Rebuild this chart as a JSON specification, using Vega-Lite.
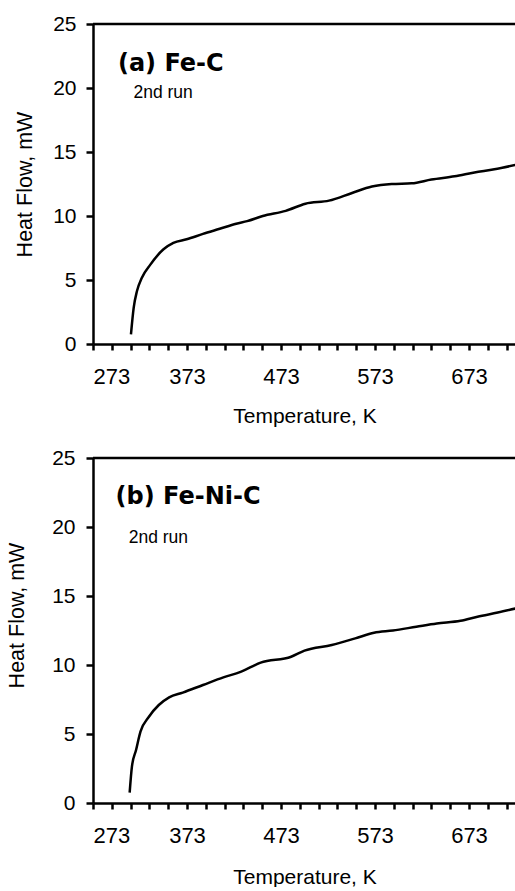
{
  "$schema": "https://vega.github.io/schema/vega-lite/v6.json",
  "background": "white",
  "padding": {"left": 6, "top": 13, "right": 0, "bottom": 0},
  "spacing": 21,
  "config": {
    "view": {"stroke": null},
    "axis": {
      "domainColor": "black", "domainWidth": 2.5, "tickColor": "black", "tickWidth": 2.5,
      "labelColor": "black", "labelFont": "Liberation Sans", "titleFont": "Liberation Sans",
      "titleColor": "black", "titleFontWeight": "normal", "grid": false
    }
  },
  "datasets": {
    "a": [
      {"T": 313.4, "V": 0.76}, {"T": 316.3, "V": 2.84}, {"T": 319.8, "V": 4.14}, {"T": 325, "V": 5.18},
      {"T": 334, "V": 6.2}, {"T": 348, "V": 7.4}, {"T": 358.5, "V": 7.9}, {"T": 372.6, "V": 8.18},
      {"T": 390, "V": 8.6}, {"T": 407.8, "V": 9.0}, {"T": 425.4, "V": 9.4}, {"T": 437, "V": 9.6},
      {"T": 453.6, "V": 10.0}, {"T": 478, "V": 10.4}, {"T": 499, "V": 10.96}, {"T": 524, "V": 11.2},
      {"T": 548.6, "V": 11.8}, {"T": 569.7, "V": 12.3}, {"T": 590.8, "V": 12.5}, {"T": 612, "V": 12.55},
      {"T": 633, "V": 12.85}, {"T": 657.7, "V": 13.1}, {"T": 678.8, "V": 13.4}, {"T": 700, "V": 13.65},
      {"T": 723, "V": 14.0}
    ],
    "b": [
      {"T": 312, "V": 0.75}, {"T": 314.4, "V": 2.63}, {"T": 318.8, "V": 3.84}, {"T": 323.5, "V": 5.17},
      {"T": 332.5, "V": 6.25}, {"T": 343, "V": 7.1}, {"T": 354, "V": 7.66}, {"T": 368.5, "V": 8.0},
      {"T": 390, "V": 8.55}, {"T": 411.7, "V": 9.1}, {"T": 430, "V": 9.5}, {"T": 451.4, "V": 10.17},
      {"T": 483.8, "V": 10.6}, {"T": 498, "V": 11.04}, {"T": 527, "V": 11.45}, {"T": 552, "V": 11.93},
      {"T": 572, "V": 12.34}, {"T": 592, "V": 12.5}, {"T": 617, "V": 12.77}, {"T": 638.7, "V": 13.0},
      {"T": 664, "V": 13.2}, {"T": 682, "V": 13.5}, {"T": 703.6, "V": 13.8}, {"T": 723, "V": 14.1}
    ]
  },
  "vconcat": [
    {
      "width": 423, "height": 320,
      "layer": [
        {
          "data": {"name": "a"},
          "mark": {"type": "line", "color": "black", "strokeWidth": 2.5, "interpolate": "monotone", "clip": true},
          "encoding": {
            "x": {"field": "T", "type": "quantitative",
              "scale": {"domain": [273, 723], "nice": false, "zero": false},
              "axis": {"title": "Temperature, K", "values": [273,293,313,333,353,373,393,413,433,453,473,493,513,533,553,573,593,613,633,653,673,693,713],
                "tickCount": 24, "labelExpr": "(datum.value - 273) % 100 == 0 ? datum.label : ''", "labelOverlap": false,
                "tickSize": 6, "labelPadding": 16, "labelFontSize": 22, "titleFontSize": 21, "titlePadding": 18}},
            "y": {"field": "V", "type": "quantitative",
              "scale": {"domain": [0, 25], "nice": false},
              "axis": {"title": "Heat Flow, mW", "values": [0,5,10,15,20,25], "tickSize": 7, "labelPadding": 10,
                "labelFontSize": 21, "titleFontSize": 21.5, "titlePadding": 16}}
          }
        },
        {
          "data": {"values": [{"edge": "top", "V": 25}]},
          "mark": {"type": "rule", "color": "black", "strokeWidth": 2.5},
          "encoding": {"y": {"field": "V", "type": "quantitative"}}
        },
        {
          "data": {"values": [{"label": "(a) Fe-C"}]},
          "mark": {"type": "text", "align": "left", "baseline": "middle", "font": "DejaVu Sans", "fontWeight": "bold", "fontSize": 24, "color": "black"},
          "encoding": {"x": {"datum": 299.5}, "y": {"datum": 21.9}, "text": {"field": "label"}}
        },
        {
          "data": {"values": [{"label": "2nd run"}]},
          "mark": {"type": "text", "align": "left", "baseline": "middle", "font": "Liberation Sans", "fontSize": 17.5, "color": "black"},
          "encoding": {"x": {"datum": 316}, "y": {"datum": 19.6}, "text": {"field": "label"}}
        }
      ]
    },
    {
      "width": 423, "height": 345,
      "layer": [
        {
          "data": {"name": "b"},
          "mark": {"type": "line", "color": "black", "strokeWidth": 2.5, "interpolate": "monotone", "clip": true},
          "encoding": {
            "x": {"field": "T", "type": "quantitative",
              "scale": {"domain": [273, 723], "nice": false, "zero": false},
              "axis": {"title": "Temperature, K", "values": [273,293,313,333,353,373,393,413,433,453,473,493,513,533,553,573,593,613,633,653,673,693,713],
                "tickCount": 24, "labelExpr": "(datum.value - 273) % 100 == 0 ? datum.label : ''", "labelOverlap": false,
                "tickSize": 6, "labelPadding": 16, "labelFontSize": 22, "titleFontSize": 21, "titlePadding": 20}},
            "y": {"field": "V", "type": "quantitative",
              "scale": {"domain": [0, 25], "nice": false},
              "axis": {"title": "Heat Flow, mW", "values": [0,5,10,15,20,25], "tickSize": 7, "labelPadding": 11,
                "labelFontSize": 21, "titleFontSize": 21.5, "titlePadding": 23, "titleY": 157}}
          }
        },
        {
          "data": {"values": [{"edge": "top", "V": 25}]},
          "mark": {"type": "rule", "color": "black", "strokeWidth": 2.5},
          "encoding": {"y": {"field": "V", "type": "quantitative"}}
        },
        {
          "data": {"values": [{"label": "(b) Fe-Ni-C"}]},
          "mark": {"type": "text", "align": "left", "baseline": "middle", "font": "DejaVu Sans", "fontWeight": "bold", "fontSize": 24, "color": "black"},
          "encoding": {"x": {"datum": 297}, "y": {"datum": 22.2}, "text": {"field": "label"}}
        },
        {
          "data": {"values": [{"label": "2nd run"}]},
          "mark": {"type": "text", "align": "left", "baseline": "middle", "font": "Liberation Sans", "fontSize": 17.5, "color": "black"},
          "encoding": {"x": {"datum": 311}, "y": {"datum": 19.2}, "text": {"field": "label"}}
        }
      ]
    }
  ]
}
